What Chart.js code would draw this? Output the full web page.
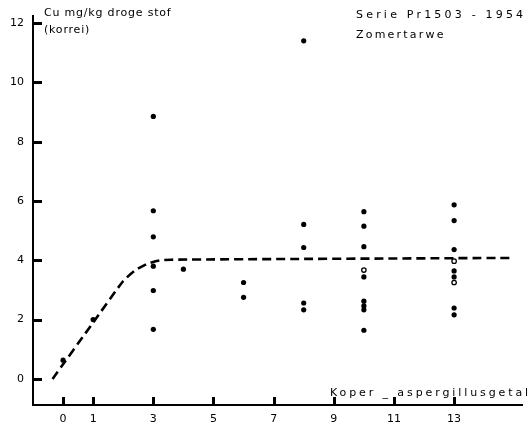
<!DOCTYPE html>
<html>
<head>
    <title>Cu korrel zomertarwe</title>
    <script src="https://cdn.jsdelivr.net/npm/chart.js"></script>
    <style>
        body { margin: 0; background-color: #fff; }
    </style>
</head>
<body>
    <canvas id="cuChart" width="528" height="426"></canvas>

    <script>
        // tick labels
        const xTicks = [0, 1, 3, 5, 7, 9, 11, 13];
        const yTicks = [0, 2, 4, 6, 8, 10, 12];

        // measured points (koper-aspergillusgetal, Cu mg/kg)
        const aspergillus = [0, 1, 3, 3, 3, 3, 3, 3, 4, 6, 6, 8, 8, 8, 8, 8,
                             10, 10, 10, 10, 10, 10, 10, 10, 13, 13, 13, 13, 13, 13, 13];
        const copper = [0.63, 2.0, 8.85, 5.67, 4.79, 3.8, 2.98, 1.67, 3.7, 3.25, 2.75,
                        11.4, 5.21, 4.43, 2.56, 2.33,
                        5.64, 5.15, 4.46, 3.44, 2.62, 2.46, 2.33, 1.64,
                        5.87, 5.34, 4.36, 3.64, 3.44, 2.39, 2.16];

        // open markers
        const openX = [10, 13, 13];
        const openY = [3.67, 3.97, 3.25];

        // dashed curve
        const curveX = [-0.35, 1, 2, 2.4, 2.8, 3.2, 3.6, 15];
        const curveY = [0, 1.9, 3.3, 3.66, 3.88, 3.99, 4.02, 4.08];

        const toXY = (xs, ys) => xs.map((x, i) => ({ x: x, y: ys[i] }));

        const decoPlugin = {
            id: 'deco',
            afterDatasetsDraw(chart) {
                // inward tick marks
                const ctx = chart.ctx;
                const xs = chart.scales.x;
                const ys = chart.scales.y;
                const area = chart.chartArea;
                ctx.save();
                ctx.fillStyle = '#000';
                yTicks.forEach(v => {
                    const py = Math.round(ys.getPixelForValue(v));
                    ctx.fillRect(area.left, py - 1, 9, 3);
                });
                xTicks.forEach(v => {
                    const px = Math.round(xs.getPixelForValue(v));
                    ctx.fillRect(px - 1, area.bottom - 8, 3, 8);
                });
                ctx.restore();
            },
            afterDraw(chart) {
                const ctx = chart.ctx;
                ctx.save();
                ctx.fillStyle = '#000';
                ctx.textBaseline = 'middle';
                ctx.textAlign = 'left';
                ctx.font = '11px "DejaVu Sans"';
                ctx.letterSpacing = '0.8px';
                ctx.fillText('Cu mg/kg droge stof', 44, 13);
                ctx.fillText('(korrei)', 44, 30);
                ctx.letterSpacing = '3.2px';
                ctx.fillText('Serie Pr1503 - 1954', 356, 15);
                ctx.letterSpacing = '2.2px';
                ctx.fillText('Zomertarwe', 356, 35);
                ctx.letterSpacing = '2.9px';
                ctx.fillText('Koper _ aspergillusgetal', 330, 393);
                ctx.restore();
            }
        };

        new Chart(document.getElementById('cuChart'), {
            type: 'scatter',
            data: {
                datasets: [
                    { label: 'Cu', data: toXY(aspergillus, copper), pointRadius: 2.6,
                      pointBackgroundColor: '#000', pointBorderWidth: 0, showLine: false },
                    { label: 'open', data: toXY(openX, openY), pointRadius: 2.2,
                      pointBackgroundColor: '#fff', pointBorderColor: '#000', pointBorderWidth: 1.3, showLine: false },
                    { label: 'curve', data: toXY(curveX, curveY), showLine: true, pointRadius: 0,
                      borderColor: '#000', borderWidth: 2.6, borderDash: [9, 5], tension: 0.2, fill: false }
                ]
            },
            options: {
                responsive: false,
                animation: false,
                layout: { padding: { top: 5, right: 0, left: 0, bottom: 0 } },
                plugins: { legend: { display: false }, tooltip: { enabled: false } },
                scales: {
                    x: {
                        type: 'linear', min: -1, max: 15.28,
                        afterBuildTicks: s => { s.ticks = xTicks.map(v => ({ value: v })); },
                        afterFit: s => { s.height = 21; },
                        grid: { display: false, drawTicks: false },
                        border: { display: true, color: '#000', width: 2 },
                        ticks: { color: '#000', font: { family: 'DejaVu Sans', size: 11 }, padding: 8, maxRotation: 0, autoSkip: false }
                    },
                    y: {
                        type: 'linear', min: -0.88, max: 12.25,
                        afterBuildTicks: s => { s.ticks = yTicks.map(v => ({ value: v })); },
                        afterFit: s => { s.width = 33; },
                        grid: { display: false, drawTicks: false },
                        border: { display: true, color: '#000', width: 2 },
                        ticks: { color: '#000', font: { family: 'DejaVu Sans', size: 11 }, padding: 9, autoSkip: false }
                    }
                }
            },
            plugins: [decoPlugin]
        });
    </script>
</body>
</html>
